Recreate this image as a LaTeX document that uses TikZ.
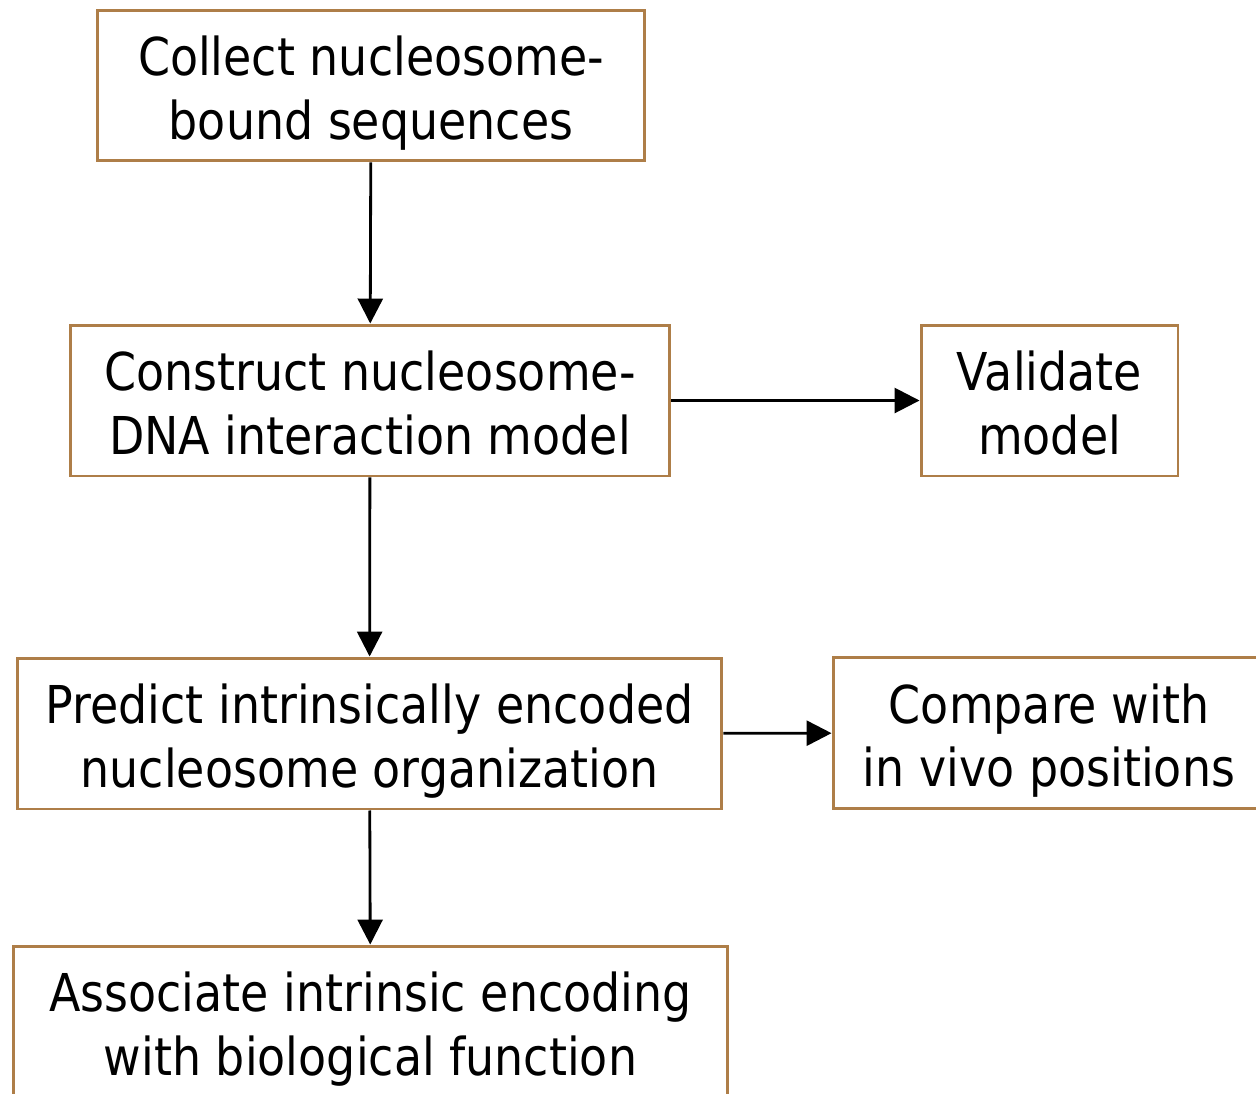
\documentclass[tikz,border=0pt]{standalone}
\usepackage{fontspec}
\setmainfont{DejaVu Sans}[FakeStretch=0.88]
\usetikzlibrary{arrows.meta}
\definecolor{boxbrown}{RGB}{174,126,72}
\tikzstyle{stepbox} = [rectangle, minimum height=3.02cm, align=center, draw=boxbrown, line width=1.7pt, fill=white, inner sep=0pt, text height=61.4pt, text depth=0pt, font=\fontsize{29.7}{36.4}\selectfont]
\tikzstyle{arrow} = [line width=1.6pt, -{Triangle[length=0.5cm, width=0.5cm]}]

\begin{document}
\begin{tikzpicture}[x=0.02cm, y=-0.02cm]

\clip (0,0) rectangle (1256,1093);
\fill[white] (0,0) rectangle (1256,1093);

\node (collect) [stepbox, minimum width=10.96cm] at (371,85.5) {Collect nucleosome-\\bound sequences};
\node (construct) [stepbox, minimum width=12cm] at (370,400.5) {Construct nucleosome-\\DNA interaction model};
\node (validate) [stepbox, minimum width=5.14cm] at (1049.5,400.5) {Validate\\model};
\node (predict) [stepbox, minimum width=14.1cm] at (369.5,733.5) {Predict intrinsically encoded\\nucleosome organization};
\node (compare) [stepbox, minimum width=8.64cm] at (1049,733) {Compare with\\in vivo positions};
\node (associate) [stepbox, minimum width=14.3cm] at (370.5,1021.5) {Associate intrinsic encoding\\with biological function};

\draw [arrow] (collect) -- (construct);
\draw [arrow] (construct) -- (validate);
\draw [arrow] (construct) -- (predict);
\draw [arrow] (predict) -- (compare);
\draw [arrow] (predict) -- (associate);

\end{tikzpicture}
\end{document}
